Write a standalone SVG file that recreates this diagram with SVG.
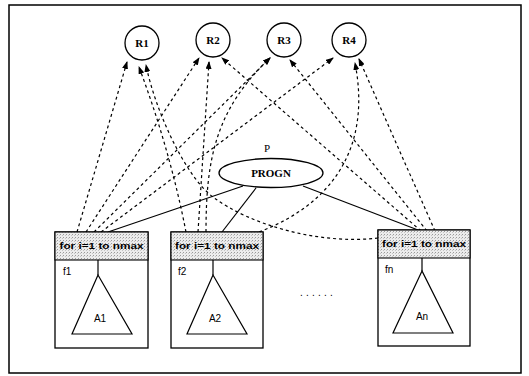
<svg xmlns="http://www.w3.org/2000/svg" width="529" height="376" viewBox="0 0 529 376">
  <defs>
    <marker id="arrow" markerWidth="8" markerHeight="6" refX="7" refY="3" orient="auto" markerUnits="userSpaceOnUse">
      <path d="M0,0 L8,3 L0,6 Z" fill="#000"/>
    </marker>
    <pattern id="stipple" width="3" height="3" patternUnits="userSpaceOnUse">
      <rect width="3" height="3" fill="#ececec"/>
      <rect x="0" y="0" width="1" height="1" fill="#9a9a9a"/>
      <rect x="2" y="1" width="1" height="1" fill="#c4c4c4"/>
    </pattern>
  </defs>
  <style>
    .frame { fill: none; stroke: #000; stroke-width: 1.5; }
    .res { fill: #fff; stroke: #000; stroke-width: 1.3; }
    .box { fill: #fff; stroke: #000; stroke-width: 1.3; }
    .hdr { fill: url(#stipple); stroke: #000; stroke-width: 1.1; }
    .tree { fill: #fff; stroke: #000; stroke-width: 1.2; }
    .dash { fill: none; stroke: #000; stroke-width: 1.2; stroke-dasharray: 3 3; marker-end: url(#arrow); }
    .solid { fill: none; stroke: #000; stroke-width: 1.2; }
    .serif { font-family: "Liberation Serif", serif; font-weight: bold; fill: #000; }
    .plain { font-family: "Liberation Serif", serif; fill: #000; }
    .sans { font-family: "Liberation Sans", sans-serif; fill: #000; }
  </style>

  <rect class="frame" x="9" y="5" width="512" height="368"/>

  <!-- resources -->
  <g id="R1"><circle class="res" cx="142" cy="43" r="17"/><text class="serif" x="142" y="47" font-size="11" text-anchor="middle">R1</text></g>
  <g id="R2"><circle class="res" cx="213" cy="40" r="17"/><text class="serif" x="213" y="44" font-size="11" text-anchor="middle">R2</text></g>
  <g id="R3"><circle class="res" cx="284" cy="40" r="17"/><text class="serif" x="284" y="44" font-size="11" text-anchor="middle">R3</text></g>
  <g id="R4"><circle class="res" cx="349" cy="40" r="17"/><text class="serif" x="349" y="44" font-size="11" text-anchor="middle">R4</text></g>

  <!-- connectors -->
  <g id="connectors">
    <!-- f1 -->
    <path class="dash" d="M77,232 L127,62"/>
    <path class="dash" d="M86,232 L199,58"/>
    <path class="dash" d="M94,232 L270,58"/>
    <path class="dash" d="M101,232 L333,58"/>
    <!-- f2 -->
    <path class="dash" d="M186,232 Q170,150 139,67"/>
    <path class="dash" d="M198,232 L209,62"/>
    <path class="dash" d="M206,232 C206,160 215,110 270,58"/>
    <path class="dash" d="M259,232 C330,205 372,150 355,63"/>
    <!-- fn -->
    <path class="dash" d="M378,238 C320,245 250,225 213,197 C185,176 155,110 146,65"/>
    <path class="dash" d="M421,231 L222,58"/>
    <path class="dash" d="M427,231 L290,60"/>
    <path class="dash" d="M435,231 L359,59"/>
    <!-- PROGN children -->
    <path class="solid" d="M243,186 L108,232"/>
    <path class="solid" d="M256,188 L222,232"/>
    <path class="solid" d="M303,186 L418,230"/>
  </g>

  <g id="P">
    <text class="plain" x="267" y="152" font-size="11" text-anchor="middle">P</text>
    <ellipse class="res" cx="271" cy="173" rx="52" ry="14.5"/>
    <text class="serif" x="271" y="177" font-size="11" text-anchor="middle">PROGN</text>
  </g>

  <g id="f1">
    <rect class="box" x="55" y="232" width="93" height="116"/>
    <rect class="hdr" x="55" y="232" width="93" height="28"/>
    <text class="sans" x="101.5" y="249" font-size="9.5" font-weight="bold" text-anchor="middle" textLength="84" lengthAdjust="spacingAndGlyphs">for i=1 to nmax</text>
    <text class="sans" x="63" y="275" font-size="10">f1</text>
    <line class="solid" x1="98" y1="260" x2="98" y2="275"/>
    <polygon class="tree" points="98,275 72,334 132,334"/>
    <text class="sans" x="100" y="322" font-size="10" text-anchor="middle">A1</text>
  </g>

  <g id="f2">
    <rect class="box" x="171" y="232" width="92" height="116"/>
    <rect class="hdr" x="171" y="232" width="92" height="28"/>
    <text class="sans" x="217" y="249" font-size="9.5" font-weight="bold" text-anchor="middle" textLength="84" lengthAdjust="spacingAndGlyphs">for i=1 to nmax</text>
    <text class="sans" x="178" y="275" font-size="10">f2</text>
    <line class="solid" x1="213" y1="260" x2="213" y2="275"/>
    <polygon class="tree" points="213,275 187,334 247,334"/>
    <text class="sans" x="215" y="322" font-size="10" text-anchor="middle">A2</text>
  </g>

  <text class="sans" x="300" y="296" font-size="10" letter-spacing="3.2">......</text>

  <g id="fn">
    <rect class="box" x="378" y="230" width="92" height="116"/>
    <rect class="hdr" x="378" y="230" width="92" height="28"/>
    <text class="sans" x="424" y="247" font-size="9.5" font-weight="bold" text-anchor="middle" textLength="84" lengthAdjust="spacingAndGlyphs">for i=1 to nmax</text>
    <text class="sans" x="385" y="273" font-size="10">fn</text>
    <line class="solid" x1="422" y1="258" x2="422" y2="271"/>
    <polygon class="tree" points="422,271 393,333 453,333"/>
    <text class="sans" x="422" y="320" font-size="10" text-anchor="middle">An</text>
  </g>
</svg>
